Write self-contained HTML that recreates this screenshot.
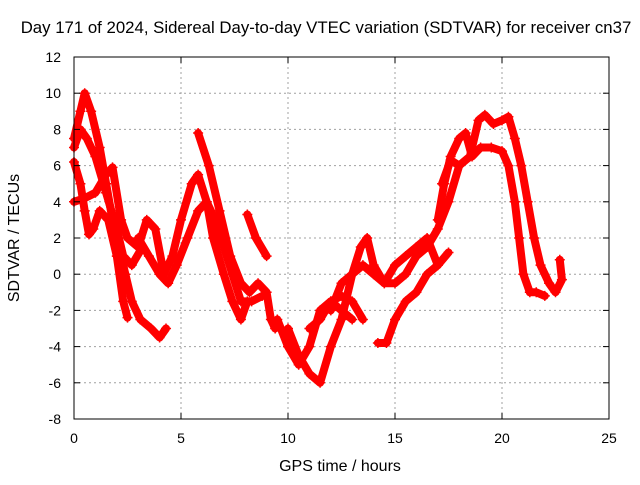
<!DOCTYPE html>
<html><head><meta charset="utf-8"><style>
body{margin:0;background:#fff;font-family:"Liberation Sans",sans-serif}
svg text{font-family:"Liberation Sans",sans-serif;font-size:14px;fill:#000}
svg text.big{font-size:16px}
svg text.title{font-size:16.8px}
</style></head><body>
<svg id="chart" width="640" height="480" xmlns="http://www.w3.org/2000/svg">
<rect width="640" height="480" fill="#fff"/>
<text class="title" x="326" y="33" text-anchor="middle">Day 171 of 2024, Sidereal Day-to-day VTEC variation (SDTVAR) for receiver cn37</text>
<text class="big" x="340" y="471" text-anchor="middle">GPS time / hours</text>
<text class="big" x="19" y="238" text-anchor="middle" transform="rotate(-90 19 238)">SDTVAR / TECUs</text>
<g id="grid"></g>
<g id="marks"></g>
<rect x="74" y="57" width="535" height="362" fill="none" stroke="#000"/>
<g id="ticks"></g>
</svg>
<script>
const xTicks=[0,5,10,15,20,25];
const yTicks=[-8,-6,-4,-2,0,2,4,6,8,10,12];
const t1x=[0,0.3,0.5,0.8,1.2,1.5,1.8,2.1,2.4,2.7,3.1,3.6,4,4.3];
const t1y=[7.5,9,10,9,7,5,3,1.5,0,-1.5,-2.5,-3,-3.5,-3];
const t2x=[0,0.3,0.5,0.7,0.9,1.2,1.6,2.0,2.3,2.5];
const t2y=[6.2,5,3.5,2.2,2.5,3.5,3,1,-1.5,-2.4];
const t3x=[0,0.3,0.6,1,1.5,2,2.3,2.7,3.2];
const t3y=[7,8,7.5,6.5,4.5,2.5,1,0.5,1.5];
const t4x=[0,0.5,1,1.5,1.8,2.2,2.5,3,3.4,3.8,4.2,4.6,5,5.5,5.8,6.2,6.5,7,7.4,7.8,8.1];
const t4y=[4,4.2,4.5,5.5,5.9,3,2,1.5,3,2.5,0,1,3,5,5.5,4,2,0,-1.5,-2.5,-1.5];
const t5x=[5.8,6.3,6.8,7.3,7.8,8.2,8.6,9,9.2,9.4];
const t5y=[7.8,6,3.5,1,-0.5,-1,-0.5,-1,-2.5,-3];
const t6x=[3,3.5,4,4.4,4.8,5.3,5.8,6.2,6.6,7,7.4,7.8,8.3,8.8];
const t6y=[2,1,0,-0.5,0.5,2,3.5,4,3,1.5,0,-1.5,-1.5,-1.2];
const t7x=[8.1,8.5,9];
const t7y=[3.3,2,1];
const t8x=[9.5,10,10.5,11,11.5,12,12.5,13];
const t8y=[-2.5,-4,-5,-4,-2,-1.5,-2,-2.5];
const t9x=[10,10.5,11,11.5,12,12.5,13,13.4,13.7,14,14.5,15,15.5,16,16.5,17,17.5,18];
const t9y=[-3,-4.5,-5.5,-6,-4,-2.5,0,1.5,2,0.5,-0.5,-0.5,0,1,1.5,2.5,4,6];
const t10x=[11,11.5,12,12.5,13,13.5];
const t10y=[-3,-2.5,-1.5,-1.2,-1.5,-2.5];
const t11x=[12,12.5,13,13.5,14,14.5,15,15.5,16,16.5,17];
const t11y=[-2,-0.5,0,0.5,0,-0.5,0.5,1,1.5,2,0.5];
const t12x=[14.2,14.6,15,15.5,16,16.5,17,17.5];
const t12y=[-3.8,-3.8,-2.5,-1.5,-1,0,0.5,1.2];
const t13x=[17,17.3,17.6,18,18.3,18.6,19,19.5,20,20.3,20.6,20.8,21,21.3,21.6,22];
const t13y=[3,5,6.5,7.5,7.8,6.5,7,7,6.8,6,4,2,0,-1,-1,-1.2];
const t14x=[17.2,17.6,18,18.5,18.9,19.2,19.6,20,20.3,20.6,20.9,21.2,21.5,21.8,22.2,22.5,22.8,22.7];
const t14y=[5,6.3,6,6.5,8.5,8.8,8.3,8.5,8.7,7.5,6,4,2,0.5,-0.5,-1,-0.3,0.8];
const tracks=[[t1x,t1y],[t2x,t2y],[t3x,t3y],[t4x,t4y],[t5x,t5y],[t6x,t6y],[t7x,t7y],[t8x,t8y],[t9x,t9y],[t10x,t10y],[t11x,t11y],[t12x,t12y],[t13x,t13y],[t14x,t14y]];
const X=v=>74+v*535/25, Y=v=>419-(v+8)*362/20;
const NS='http://www.w3.org/2000/svg';
const g=document.getElementById('grid'),tk=document.getElementById('ticks'),mk=document.getElementById('marks');
function el(p,t,a){const e=document.createElementNS(NS,t);for(const k in a)e.setAttribute(k,a[k]);p.appendChild(e);return e;}
xTicks.forEach(v=>{
 if(v>0&&v<25){const l=el(g,'line',{x1:X(v),x2:X(v),y1:57,y2:419,stroke:'#a0a0a0','stroke-dasharray':'2,3'});
 
 }
 el(tk,'line',{x1:X(v),x2:X(v),y1:419,y2:413,stroke:'#000'});
 el(tk,'line',{x1:X(v),x2:X(v),y1:57,y2:63,stroke:'#000'});
 const t=el(tk,'text',{x:X(v),y:443,'text-anchor':'middle'});t.textContent=v;
 
 
});
yTicks.forEach(v=>{
 if(v>-8&&v<12){const l=el(g,'line',{x1:74,x2:609,y1:Y(v),y2:Y(v),stroke:'#a0a0a0','stroke-dasharray':'2,3'});
 
 }
 el(tk,'line',{x1:74,x2:80,y1:Y(v),y2:Y(v),stroke:'#000'});
 el(tk,'line',{x1:609,x2:603,y1:Y(v),y2:Y(v),stroke:'#000'});
 const t=el(tk,'text',{x:61,y:Y(v)+5,'text-anchor':'end'});t.textContent=v;
 
 
});
tracks.forEach(([xs,ys])=>{
 const pts=xs.map((x,i)=>X(x)+','+Y(ys[i])).join(' ');
 const p=el(mk,'polyline',{points:pts,fill:'none',stroke:'#f00','stroke-width':8,'stroke-linejoin':'round','stroke-linecap':'round'});
 
 
 xs.forEach((x,i)=>{
  const m=el(mk,'path',{d:`M${X(x)-5},${Y(ys[i])}h10M${X(x)},${Y(ys[i])-5}v10`,stroke:'#f00','stroke-width':1.5});
  
  
 });
});
</script>
</body></html>
